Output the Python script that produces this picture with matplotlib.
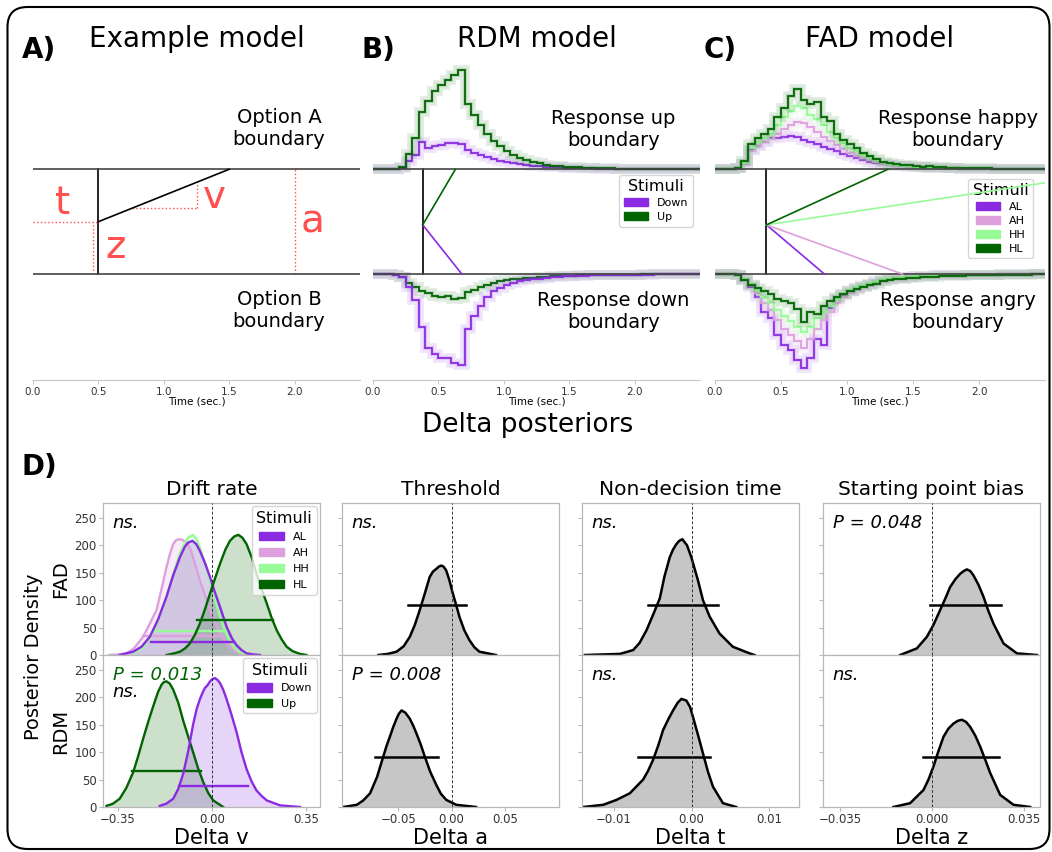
import numpy as np
import matplotlib
matplotlib.use("Agg")
import matplotlib.pyplot as plt
from matplotlib.patches import FancyBboxPatch, Patch

W, H = 1052, 852

PURPLE = "#8a2be2"
PLUM = "#dda0dd"
PALE = "#98fb98"
DARK = "#006400"
RED = "#ff4f4f"
GREY_FILL = "#c6c6c6"
SPINE = "#b8b8b8"

# ── Top row: predictive RT histograms (height in boundary units) ─────────────
TIME_EDGES = np.linspace(0, 2.5, 51)      # 0.05 s bins
TIME_TICKS = [0.0, 0.5, 1.0, 1.5, 2.0]

TAIL_A = [0.012, 0.01, 0.009, 0.008, 0.007, 0.006, 0.005, 0.005, 0.004, 0.004,
          0.003, 0.003, 0.003, 0.002, 0.002, 0.002, 0.002, 0.001, 0.001, 0.001]
TAIL_B = [0.02, 0.018, 0.015, 0.013, 0.011, 0.01, 0.008, 0.007, 0.006, 0.005,
          0.005, 0.004, 0.004, 0.003, 0.003, 0.003, 0.002, 0.002, 0.002, 0.002]

# RDM model
rdm_up_upper = [0, 0, 0, 0.005,
                0.02, 0.15, 0.30, 0.55, 0.65, 0.75, 0.80, 0.85, 0.90, 0.95, 0.62, 0.52, 0.42,
                0.34, 0.27, 0.22, 0.17, 0.14, 0.11, 0.09, 0.07, 0.06, 0.045, 0.035, 0.03, 0.025,
                0.02, 0.018, 0.015, 0.012, 0.01, 0.009, 0.008, 0.007, 0.006, 0.005,
                0.005, 0.004, 0.004, 0.003, 0.003, 0.003, 0.002, 0.002, 0.002, 0.002]
rdm_down_upper = [0, 0, 0, 0,
                  0.01, 0.08, 0.14, 0.26, 0.20, 0.22, 0.23, 0.25, 0.25, 0.24, 0.18, 0.16, 0.14,
                  0.12, 0.10, 0.08, 0.07, 0.06, 0.05, 0.04, 0.035, 0.03, 0.025, 0.02, 0.018, 0.015] + TAIL_A
rdm_down_lower = [0, 0, 0, 0.01,
                  0.03, 0.12, 0.25, 0.50, 0.70, 0.76, 0.80, 0.80, 0.85, 0.87, 0.52, 0.40, 0.30,
                  0.22, 0.16, 0.13, 0.10, 0.085, 0.07, 0.06, 0.05, 0.042, 0.036, 0.03, 0.026, 0.022,
                  0.019, 0.016, 0.014, 0.012, 0.01, 0.009, 0.008, 0.007, 0.006, 0.005,
                  0.005, 0.004, 0.004, 0.003, 0.003, 0.003, 0.002, 0.002, 0.002, 0.002]
rdm_up_lower = [0, 0, 0, 0.01,
                0.03, 0.08, 0.12, 0.16, 0.18, 0.21, 0.22, 0.21, 0.24, 0.23, 0.17, 0.15, 0.12,
                0.10, 0.08, 0.07, 0.06, 0.05, 0.045, 0.04, 0.035, 0.03, 0.026, 0.022, 0.019, 0.016,
                0.014, 0.012, 0.01, 0.009, 0.008, 0.007, 0.006, 0.005, 0.005, 0.004,
                0.004, 0.003, 0.003, 0.003, 0.002, 0.002, 0.002, 0.002, 0.001, 0.001]

# FAD model
fad_hl_upper = [0, 0, 0, 0.01,
                0.08, 0.24, 0.30, 0.34, 0.38, 0.50, 0.58, 0.70, 0.77, 0.66, 0.62, 0.64, 0.50,
                0.46, 0.34, 0.28, 0.24, 0.20, 0.16, 0.13, 0.10, 0.07, 0.06, 0.05, 0.04, 0.04,
                0.03, 0.025, 0.03, 0.02, 0.02, 0.015, 0.015, 0.012, 0.01, 0.01,
                0.008, 0.008, 0.006, 0.006, 0.005, 0.005, 0.004, 0.004, 0.003, 0.003]
fad_hh_upper = [0, 0, 0, 0.01,
                0.06, 0.20, 0.26, 0.30, 0.34, 0.42, 0.50, 0.56, 0.60, 0.58, 0.52, 0.48, 0.42,
                0.36, 0.30, 0.25, 0.20, 0.17, 0.14, 0.11, 0.09, 0.07, 0.055, 0.045, 0.035, 0.03] + TAIL_B
fad_ah_upper = [0, 0, 0, 0.01,
                0.05, 0.17, 0.22, 0.26, 0.29, 0.34, 0.38, 0.42, 0.45, 0.44, 0.40, 0.36, 0.31,
                0.27, 0.23, 0.19, 0.16, 0.13, 0.11, 0.09, 0.07, 0.055, 0.045, 0.035, 0.03, 0.025] + TAIL_B
fad_al_upper = [0, 0, 0, 0.01,
                0.05, 0.18, 0.22, 0.26, 0.30, 0.30, 0.31, 0.32, 0.31, 0.28, 0.26, 0.24, 0.21,
                0.19, 0.17, 0.15, 0.13, 0.11, 0.09, 0.07, 0.06, 0.05, 0.04, 0.035, 0.03, 0.025] + TAIL_B
fad_al_lower = [0, 0, 0, 0.01,
                0.06, 0.12, 0.22, 0.36, 0.42, 0.58, 0.68, 0.72, 0.82, 0.90, 0.80, 0.62, 0.68,
                0.32, 0.24, 0.20, 0.16, 0.13, 0.11, 0.09, 0.07, 0.06, 0.05, 0.04, 0.035, 0.03] + TAIL_B
fad_ah_lower = [0, 0, 0, 0.01,
                0.05, 0.10, 0.18, 0.28, 0.34, 0.44, 0.52, 0.58, 0.64, 0.70, 0.62, 0.52, 0.44,
                0.36, 0.28, 0.22, 0.18, 0.15, 0.12, 0.10, 0.08, 0.065, 0.05, 0.04, 0.035, 0.03] + TAIL_B
fad_hh_lower = [0, 0, 0, 0.01,
                0.05, 0.09, 0.15, 0.22, 0.27, 0.34, 0.40, 0.45, 0.50, 0.55, 0.50, 0.42, 0.36,
                0.30, 0.24, 0.19, 0.15, 0.12, 0.10, 0.08, 0.065, 0.05, 0.04, 0.035, 0.03, 0.025] + TAIL_B
fad_hl_lower = [0, 0, 0, 0.01,
                0.06, 0.10, 0.13, 0.16, 0.19, 0.24, 0.26, 0.28, 0.33, 0.46, 0.36, 0.38, 0.30,
                0.26, 0.22, 0.19, 0.16, 0.14, 0.12, 0.10, 0.09, 0.07, 0.06, 0.05, 0.045, 0.04,
                0.035, 0.03, 0.03, 0.025, 0.02, 0.02, 0.015, 0.015, 0.012, 0.01,
                0.01, 0.008, 0.007, 0.006, 0.005, 0.005, 0.004, 0.004, 0.003, 0.003]

# Mean process parameters (non-decision time, start point, drift)
EX_T0, EX_Z, EX_V = 0.5, 0.5, 0.5
RDM_T0, RDM_Z = 0.38, 0.47
rdm_labels = ["Down", "Up"]
rdm_colors = [PURPLE, DARK]
rdm_drifts = [-1.57, 2.12]
FAD_T0, FAD_Z = 0.39, 0.47
fad_labels = ["AL", "AH", "HH", "HL"]
fad_colors = [PURPLE, PLUM, PALE, DARK]
fad_drifts = [-1.07, -0.456, 0.19, 0.576]

# ── Bottom block: delta posteriors (x, density) ──────────────────────────────
DENS_TICKS = [0, 50, 100, 150, 200, 250]

fad_v_ah_x = [-0.380, -0.35, -0.318, -0.29, -0.256, -0.23, -0.206, -0.185, -0.169, -0.155, -0.144, -0.134,
              -0.124, -0.11, -0.094, -0.08, -0.070, -0.058, -0.045, -0.025, -0.007, 0.012, 0.030, 0.055,
              0.079, 0.116]
fad_v_ah_y = [0, 1, 3, 12, 33, 58, 82, 125, 160, 186, 202, 209, 211, 210, 205, 193, 178, 158, 136, 108,
              82, 58, 39, 20, 9, 0]
fad_v_hh_x = [-0.293, -0.26, -0.231, -0.20, -0.169, -0.144, -0.119, -0.10, -0.088, -0.070, -0.058, -0.045,
              -0.026, -0.007, 0.012, 0.030, 0.050, 0.067, 0.085, 0.104, 0.142]
fad_v_hh_y = [3, 12, 30, 62, 106, 148, 185, 205, 214, 219, 212, 196, 168, 135, 100, 70, 42, 25, 12, 5, 0]
fad_v_al_x = [-0.343, -0.293, -0.262, -0.231, -0.20, -0.169, -0.144, -0.119, -0.10, -0.088, -0.072, -0.058,
              -0.045, -0.026, -0.007, 0.012, 0.030, 0.055, 0.075, 0.092, 0.110, 0.129, 0.155, 0.179]
fad_v_al_y = [0, 6, 15, 33, 65, 106, 145, 178, 198, 205, 208, 202, 190, 168, 142, 113, 88, 51, 30, 18,
              9, 3, 1, 0]
fad_v_hl_x = [-0.169, -0.14, -0.119, -0.10, -0.082, -0.064, -0.045, -0.026, -0.007, 0.012, 0.030, 0.050,
              0.067, 0.083, 0.098, 0.113, 0.129, 0.148, 0.166, 0.185, 0.204, 0.222, 0.241, 0.26, 0.278,
              0.30, 0.328, 0.352]
fad_v_hl_y = [0, 3, 6, 12, 21, 36, 57, 83, 112, 140, 166, 192, 208, 216, 219, 214, 202, 178, 148, 120,
              94, 68, 45, 28, 15, 7, 2, 0]
fad_v_hdi = {"AL": (-0.225, 0.079, 24), "AH": (-0.256, 0.030, 34),
             "HH": (-0.218, 0.067, 43), "HL": (-0.057, 0.226, 63)}

rdm_v_up_x = [-0.392, -0.368, -0.343, -0.318, -0.293, -0.274, -0.256, -0.237, -0.218, -0.20, -0.187,
              -0.178, -0.169, -0.157, -0.144, -0.125, -0.107, -0.088, -0.070, -0.051, -0.032, -0.013,
              0.005, 0.042]
rdm_v_up_y = [2, 6, 15, 35, 63, 93, 124, 155, 184, 210, 223, 228, 229, 225, 214, 190, 158, 128, 100,
              70, 45, 25, 12, 0]
rdm_v_down_x = [-0.194, -0.17, -0.144, -0.125, -0.107, -0.088, -0.070, -0.057, -0.045, -0.035, -0.026,
                -0.016, -0.007, 0.002, 0.011, 0.020, 0.030, 0.042, 0.055, 0.073, 0.092, 0.110, 0.129,
                0.148, 0.166, 0.185, 0.204, 0.253, 0.328]
rdm_v_down_y = [2, 6, 15, 33, 60, 102, 150, 178, 196, 208, 217, 222, 229, 233, 235, 232, 226, 214, 196,
                168, 136, 100, 69, 46, 30, 20, 12, 3, 0]
rdm_v_hdi = {"Up": (-0.297, -0.039, 65), "Down": (-0.122, 0.135, 38)}

fad_a_x = [-0.0688, -0.06, -0.0517, -0.045, -0.0393, -0.0345, -0.0299, -0.025, -0.0206, -0.0175, -0.0143,
           -0.012, -0.0097, -0.0075, -0.005, -0.002, 0.0012, 0.0045, 0.0075, 0.012, 0.0168, 0.0215,
           0.0262, 0.0417]
fad_a_y = [0, 2, 6, 16, 33, 55, 82, 113, 142, 152, 157, 161, 163, 161, 154, 136, 112, 90, 69, 45, 27,
           14, 6, 0]
fad_a_hdi = (-0.0408, 0.0137, 91)
rdm_a_x = [-0.1016, -0.0891, -0.083, -0.0766, -0.070, -0.0642, -0.061, -0.058, -0.0548, -0.0517, -0.0495,
           -0.047, -0.0435, -0.0393, -0.036, -0.033, -0.029, -0.0252, -0.020, -0.0143, -0.010, -0.005,
           0.0044, 0.023]
rdm_a_y = [0, 4, 12, 25, 55, 92, 112, 128, 146, 161, 170, 176, 172, 161, 148, 134, 114, 92, 64, 40, 24,
           13, 4, 0]
rdm_a_hdi = (-0.0720, -0.0128, 92)

fad_t_x = [-0.01372, -0.00923, -0.00752, -0.0067, -0.00581, -0.0050, -0.0041, -0.0035, -0.00282, -0.0024,
           -0.00197, -0.0016, -0.0012, -0.0006, -0.00004, 0.00081, 0.00145, 0.00231, 0.00359, 0.0053,
           0.00744, 0.00808]
fad_t_y = [0, 2, 9, 22, 45, 72, 103, 143, 178, 192, 202, 208, 211, 200, 178, 136, 100, 70, 39, 15, 3, 0]
fad_t_hdi = (-0.0056, 0.00338, 91)
rdm_t_x = [-0.01393, -0.01137, -0.00966, -0.00795, -0.00624, -0.0056, -0.00496, -0.0043, -0.00368,
           -0.0030, -0.00239, -0.0018, -0.00132, -0.00068, -0.0002, 0.00017, 0.0008, 0.00145, 0.0021,
           0.00274, 0.00402, 0.00573]
rdm_t_y = [0, 4, 13, 25, 50, 66, 86, 112, 140, 160, 176, 190, 197, 194, 182, 164, 132, 98, 64, 37, 7, 0]
rdm_t_hdi = (-0.00688, 0.00239, 92)

fad_z_x = [-0.01217, -0.00583, -0.00203, 0.0005, 0.00304, 0.005, 0.00685, 0.0088, 0.01065, 0.012,
           0.01319, 0.0145, 0.01572, 0.0176, 0.01953, 0.0214, 0.02333, 0.02714, 0.03221, 0.03982]
fad_z_y = [0, 12, 33, 55, 82, 103, 124, 138, 148, 153, 156, 153, 145, 128, 106, 80, 57, 21, 3, 0]
fad_z_hdi = (-0.00076, 0.02612, 91)
rdm_z_x = [-0.01471, -0.00837, -0.0033, -0.0014, 0.00051, 0.0024, 0.00431, 0.0062, 0.00811, 0.0097,
           0.01129, 0.0129, 0.01446, 0.0164, 0.01826, 0.0202, 0.02206, 0.02587, 0.03094, 0.03728]
rdm_z_y = [0, 7, 31, 50, 74, 102, 128, 143, 152, 157, 159, 155, 146, 130, 110, 86, 62, 22, 4, 0]
rdm_z_hdi = (-0.0033, 0.02523, 92)

col_titles = ["Drift rate", "Threshold", "Non-decision time", "Starting point bias"]
col_xlabels = ["Delta v", "Delta a", "Delta t", "Delta z"]
col_xlims = [(-0.405, 0.402), (-0.103, 0.101), (-0.0141, 0.0138), (-0.0415, 0.041)]
col_xticks = [[-0.35, 0.0, 0.35], [-0.05, 0.0, 0.05], [-0.01, 0.0, 0.01], [-0.035, 0.0, 0.035]]
col_xticklabels = [["\u22120.35", "0.00", "0.35"], ["\u22120.05", "0.00", "0.05"],
                   ["\u22120.01", "0.00", "0.01"], ["\u22120.035", "0.000", "0.035"]]
fad_stats = ["ns.", "ns.", "ns.", "P = 0.048"]
rdm_stats = ["ns.", "P = 0.008", "ns.", "ns."]


def px_axes(fig, x0, y0, x1, y1):
    return fig.add_axes([x0 / W, 1 - y1 / H, (x1 - x0) / W, (y1 - y0) / H])


def fig_text(fig, x, y, s, **kw):
    fig.text(x / W, 1 - y / H, s, **kw)


def setup_process_ax(ax, title):
    ax.set_xlim(0, 2.5)
    ax.set_ylim(-1.01, 2.09)
    for s in ["top", "left", "right"]:
        ax.spines[s].set_visible(False)
    ax.spines["bottom"].set_color("#c8c8c8")
    ax.set_yticks([])
    ax.set_xticks(TIME_TICKS)
    ax.tick_params(axis="x", labelsize=7.5, colors="#333333", color="#c8c8c8", length=3, pad=2)
    ax.set_xlabel("Time (sec.)", fontsize=7.5, labelpad=0)
    ax.set_title(title, fontsize=20, pad=6)
    ax.axhline(0, color="#444444", lw=1.2, zorder=3)
    ax.axhline(1, color="#444444", lw=1.2, zorder=3)


def draw_hist(ax, vals, color, upper):
    vals = np.asarray(vals)
    y, base = (1 + vals, 1) if upper else (-vals, 0)
    ax.stairs(y, TIME_EDGES, baseline=base, color=color, lw=7, alpha=0.12)
    ax.stairs(y, TIME_EDGES, baseline=base, color=color, lw=3, alpha=0.15)
    ax.stairs(y, TIME_EDGES, baseline=base, color=color, lw=1.3)


def drift_line(ax, t0, z, v, color):
    bound = 1.0 if v > 0 else 0.0
    t_end = min(t0 + (bound - z) / v, 2.6)
    ax.plot([t0, t_end], [z, z + v * (t_end - t0)], color=color, lw=1.2, zorder=4)


def style_post_ax(ax, col, bottom):
    ax.set_xlim(col_xlims[col])
    ax.set_ylim(0, 277)
    for s in ax.spines.values():
        s.set_color(SPINE)
        s.set_linewidth(0.9)
    ax.set_yticks(DENS_TICKS)
    ax.tick_params(axis="both", labelsize=8.5, colors="#333333", color=SPINE, length=3, pad=1.5)
    if col > 0:
        ax.set_yticklabels([])
    ax.set_xticks(col_xticks[col])
    if bottom:
        ax.set_xticklabels(col_xticklabels[col])
    else:
        ax.tick_params(axis="x", length=0, labelbottom=False)
    ax.axvline(0, color="#333333", lw=0.7, ls=(0, (3, 2)), zorder=5)


def colored_density(ax, x, y, color, hdi):
    ax.fill_between(x, y, color=color, alpha=0.2, lw=0)
    ax.plot(x, y, color=color, lw=1.7, solid_joinstyle="round")
    ax.plot(hdi[:2], [hdi[2], hdi[2]], color=color, lw=1.7)


def grey_density(ax, x, y, hdi):
    ax.fill_between(x, y, color=GREY_FILL, lw=0)
    ax.plot(x, y, color="black", lw=1.8, solid_joinstyle="round")
    ax.plot(hdi[:2], [hdi[2], hdi[2]], color="black", lw=1.8)


def stat_text(ax, s, y=0.87, color="black"):
    ax.text(0.045, y, s, transform=ax.transAxes, fontsize=13, style="italic",
            va="center", ha="left", color=color, zorder=6)


def stimuli_legend(ax, labels, colors, spacing=0.35, **kw):
    handles = [Patch(color=c, label=l) for l, c in zip(labels, colors)]
    return ax.legend(handles=handles, title="Stimuli", fontsize=8, title_fontsize=11.5,
                     handlelength=2.2, handleheight=0.75, labelspacing=spacing,
                     borderpad=0.4, **kw)


fig = plt.figure(figsize=(W / 100, H / 100), dpi=100)

frame = FancyBboxPatch((0.075, 0.03), 10.42, 8.42, boxstyle="round,pad=0,rounding_size=0.2",
                       transform=fig.dpi_scale_trans, fill=False, ec="black", lw=1.5)
fig.add_artist(frame)

# ── A) Example model ─────────────────────────────────────────────────────────
axA = px_axes(fig, 33, 55, 360, 380)
setup_process_ax(axA, "Example model")
axA.plot([EX_T0, EX_T0], [0, 1], color="black", lw=1.2)
drift_line(axA, EX_T0, EX_Z, EX_V, "black")
dot = dict(color=RED, lw=1.0, ls=":")
axA.plot([0, EX_T0], [EX_Z, EX_Z], **dot)
axA.plot([0.46, 0.46], [0, EX_Z], **dot)
axA.plot([0.76, 1.25], [0.63, 0.63], **dot)
axA.plot([1.25, 1.25], [0.63, EX_Z + EX_V * (1.25 - EX_T0)], **dot)
axA.plot([2.0, 2.0], [0, 1], **dot)
for s, tx, ty in [("t", 0.223, 0.68), ("z", 0.63, 0.26), ("v", 1.385, 0.74), ("a", 2.14, 0.5)]:
    axA.text(tx, ty, s, color=RED, fontsize=28, ha="center", va="center")
axA.text(1.88, 1.39, "Option A\nboundary", fontsize=14, ha="center", va="center")
axA.text(1.88, -0.35, "Option B\nboundary", fontsize=14, ha="center", va="center")

# ── B) RDM model ─────────────────────────────────────────────────────────────
axB = px_axes(fig, 373, 55, 700, 380)
setup_process_ax(axB, "RDM model")
draw_hist(axB, rdm_down_upper, PURPLE, True)
draw_hist(axB, rdm_up_upper, DARK, True)
draw_hist(axB, rdm_up_lower, DARK, False)
draw_hist(axB, rdm_down_lower, PURPLE, False)
axB.plot([RDM_T0, RDM_T0], [0, 1], color="black", lw=1.2)
for v, c in zip(rdm_drifts, rdm_colors):
    drift_line(axB, RDM_T0, RDM_Z, v, c)
axB.text(1.84, 1.38, "Response up\nboundary", fontsize=14, ha="center", va="center")
axB.text(1.84, -0.36, "Response down\nboundary", fontsize=14, ha="center", va="center")
stimuli_legend(axB, rdm_labels, rdm_colors, loc="upper right",
               bbox_to_anchor=(0.979, 0.631), borderaxespad=0)

# ── C) FAD model ─────────────────────────────────────────────────────────────
axC = px_axes(fig, 715, 55, 1045, 380)
setup_process_ax(axC, "FAD model")
for vals, c in [(fad_al_upper, PURPLE), (fad_ah_upper, PLUM), (fad_hh_upper, PALE), (fad_hl_upper, DARK)]:
    draw_hist(axC, vals, c, True)
for vals, c in [(fad_al_lower, PURPLE), (fad_ah_lower, PLUM), (fad_hh_lower, PALE), (fad_hl_lower, DARK)]:
    draw_hist(axC, vals, c, False)
axC.plot([FAD_T0, FAD_T0], [0, 1], color="black", lw=1.2)
legC = stimuli_legend(axC, fad_labels, fad_colors, loc="upper right",
                      bbox_to_anchor=(0.964, 0.62), borderaxespad=0)
legC.set_zorder(3)
for v, c in zip(fad_drifts, fad_colors):
    drift_line(axC, FAD_T0, FAD_Z, v, c)
axC.text(1.84, 1.38, "Response happy\nboundary", fontsize=14, ha="center", va="center")
axC.text(1.84, -0.36, "Response angry\nboundary", fontsize=14, ha="center", va="center")

fig_text(fig, 22, 50, "A)", fontsize=20, fontweight="bold", va="center")
fig_text(fig, 362, 50, "B)", fontsize=20, fontweight="bold", va="center")
fig_text(fig, 704, 50, "C)", fontsize=20, fontweight="bold", va="center")
fig_text(fig, 528, 425, "Delta posteriors", fontsize=19, ha="center", va="center")
fig_text(fig, 22, 467, "D)", fontsize=20, fontweight="bold", va="center")
fig_text(fig, 34, 657, "Posterior Density", fontsize=14, rotation=90, ha="center", va="center")

# ── D) Delta posteriors grid ─────────────────────────────────────────────────
col_x0 = [103, 342, 582, 823]
axes_top, axes_bot = [], []
for col, x0 in enumerate(col_x0):
    at = px_axes(fig, x0, 503, x0 + 217, 655)
    ab = px_axes(fig, x0, 655, x0 + 217, 807)
    style_post_ax(at, col, False)
    style_post_ax(ab, col, True)
    at.set_title(col_titles[col], fontsize=14.5, pad=6)
    ab.set_xlabel(col_xlabels[col], fontsize=15, labelpad=1)
    axes_top.append(at)
    axes_bot.append(ab)

# drift rate
at, ab = axes_top[0], axes_bot[0]
colored_density(at, fad_v_ah_x, fad_v_ah_y, PLUM, fad_v_hdi["AH"])
colored_density(at, fad_v_hh_x, fad_v_hh_y, PALE, fad_v_hdi["HH"])
colored_density(at, fad_v_al_x, fad_v_al_y, PURPLE, fad_v_hdi["AL"])
colored_density(at, fad_v_hl_x, fad_v_hl_y, DARK, fad_v_hdi["HL"])
stimuli_legend(at, fad_labels, fad_colors, spacing=0.55, loc="upper right", borderaxespad=0.3)
colored_density(ab, rdm_v_up_x, rdm_v_up_y, DARK, rdm_v_hdi["Up"])
colored_density(ab, rdm_v_down_x, rdm_v_down_y, PURPLE, rdm_v_hdi["Down"])
stimuli_legend(ab, rdm_labels, rdm_colors, spacing=0.5, loc="upper right", borderaxespad=0.3)
at.set_ylabel("FAD", fontsize=14, labelpad=3)
ab.set_ylabel("RDM", fontsize=14, labelpad=3)
stat_text(ab, "P = 0.013", y=0.87, color=DARK)
stat_text(ab, "ns.", y=0.757)

# threshold, non-decision time, starting point bias
grey_density(axes_top[1], fad_a_x, fad_a_y, fad_a_hdi)
grey_density(axes_bot[1], rdm_a_x, rdm_a_y, rdm_a_hdi)
grey_density(axes_top[2], fad_t_x, fad_t_y, fad_t_hdi)
grey_density(axes_bot[2], rdm_t_x, rdm_t_y, rdm_t_hdi)
grey_density(axes_top[3], fad_z_x, fad_z_y, fad_z_hdi)
grey_density(axes_bot[3], rdm_z_x, rdm_z_y, rdm_z_hdi)

for col in range(4):
    stat_text(axes_top[col], fad_stats[col])
    if col > 0:
        stat_text(axes_bot[col], rdm_stats[col])

fig.savefig("out.png", dpi=100)
